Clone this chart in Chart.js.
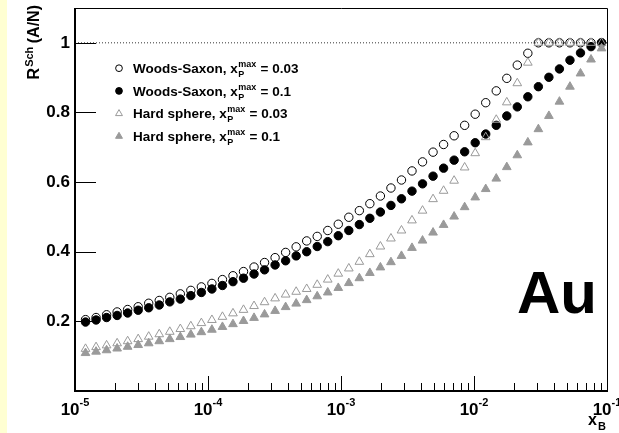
<!DOCTYPE html>
<html><head><meta charset="utf-8">
<script src="https://cdn.jsdelivr.net/npm/chart.js@4.4.0/dist/chart.umd.min.js"></script>
<style>html,body{margin:0;padding:0;background:#fff;}canvas{display:block;}</style>
</head><body>
<canvas id="c" width="619" height="433"></canvas>
<script>
// x_B values of the points (log-spaced)
const xB = [1.2e-5,1.44e-5,1.728e-5,2.074e-5,2.488e-5,2.986e-5,3.583e-5,4.300e-5,5.160e-5,6.192e-5,
  7.430e-5,8.916e-5,1.070e-4,1.284e-4,1.541e-4,1.849e-4,2.219e-4,2.662e-4,3.195e-4,3.834e-4,
  4.601e-4,5.521e-4,6.625e-4,7.950e-4,9.540e-4,1.145e-3,1.374e-3,1.648e-3,1.978e-3,2.374e-3,
  2.849e-3,3.418e-3,4.102e-3,4.922e-3,5.907e-3,7.088e-3,8.506e-3,1.021e-2,1.225e-2,1.470e-2,
  1.764e-2,2.116e-2,2.540e-2,3.048e-2,3.657e-2,4.389e-2,5.266e-2,6.320e-2,7.584e-2,9.100e-2];

// Woods-Saxon, xP^max = 0.03 (open circles)
const wsMax003 = [0.205,0.211,0.219,0.227,0.234,0.242,0.252,0.260,0.269,0.279,
  0.289,0.299,0.309,0.320,0.331,0.343,0.356,0.369,0.383,0.398,
  0.414,0.431,0.444,0.461,0.479,0.499,0.518,0.538,0.560,0.583,
  0.606,0.632,0.658,0.686,0.708,0.733,0.763,0.795,0.828,0.862,
  0.898,0.936,0.970,1,1,1,1,1,1,1];
// Woods-Saxon, xP^max = 0.1 (filled circles)
const wsMax01 = [0.198,0.204,0.211,0.217,0.224,0.232,0.239,0.247,0.256,0.264,
  0.274,0.283,0.293,0.303,0.314,0.324,0.336,0.348,0.362,0.374,
  0.388,0.400,0.415,0.429,0.446,0.461,0.478,0.496,0.514,0.533,
  0.552,0.574,0.595,0.617,0.640,0.663,0.687,0.713,0.738,0.763,
  0.790,0.816,0.845,0.874,0.901,0.925,0.950,0.971,0.989,1.0];
// Hard sphere, xP^max = 0.03 (open triangles)
const hsMax003 = [0.121,0.126,0.131,0.137,0.143,0.149,0.156,0.163,0.170,0.178,
  0.186,0.195,0.204,0.213,0.223,0.233,0.244,0.255,0.266,0.277,
  0.285,0.293,0.305,0.320,0.337,0.352,0.371,0.393,0.415,0.438,
  0.461,0.490,0.518,0.551,0.575,0.604,0.642,0.683,0.729,0.779,
  0.829,0.884,0.943,1,1,1,1,1,1,1];
// Hard sphere, xP^max = 0.1 (filled triangles)
const hsMax01 = [0.109,0.113,0.117,0.122,0.127,0.132,0.137,0.143,0.149,0.155,
  0.162,0.169,0.176,0.184,0.192,0.201,0.210,0.220,0.230,0.241,
  0.251,0.261,0.272,0.283,0.296,0.310,0.324,0.339,0.355,0.370,
  0.388,0.411,0.432,0.455,0.477,0.501,0.528,0.556,0.580,0.610,
  0.643,0.677,0.714,0.752,0.790,0.831,0.874,0.912,0.952,0.984];

const unityLine = [1e-5, 1e-1];
const yTickLabels = ['0.2','0.4','0.6','0.8','1'];
const xDecades = [1e-5,1e-4,1e-3,1e-2,1e-1];
const xDecadeExps = ['-5','-4','-3','-2','-1'];
const legendNames = ['Woods-Saxon, ','Woods-Saxon, ','Hard sphere, ','Hard sphere, '];
const legendXpMax = ['0.03','0.1','0.03','0.1'];
const nucleus = 'Au';

const FONT = "'Liberation Sans', Arial, Helvetica, sans-serif";
const GRAY = '#9a9a9a';
const pts = ys => ys.map((y,i)=>({x:xB[i], y:y}));

const markerStyles = [
  {pointStyle:'circle', pointRadius:4.2, borderColor:'#000', backgroundColor:'rgba(0,0,0,0)', borderWidth:1},
  {pointStyle:'circle', pointRadius:4.2, borderColor:'#000', backgroundColor:'#000', borderWidth:1},
  {pointStyle:'triangle', pointRadius:5, borderColor:GRAY, backgroundColor:'rgba(0,0,0,0)', borderWidth:1},
  {pointStyle:'triangle', pointRadius:5, borderColor:GRAY, backgroundColor:GRAY, borderWidth:1}
];
const seriesData = [wsMax003, wsMax01, hsMax003, hsMax01];

function drawMarker(c, st, x, y, scale){
  c.save();
  c.lineWidth = st.borderWidth; c.strokeStyle = st.borderColor; c.fillStyle = st.backgroundColor;
  Chart.helpers.drawPoint(c, {pointStyle:st.pointStyle, radius:st.pointRadius*scale, rotation:0, borderWidth:st.borderWidth}, x, y);
  c.restore();
}

const rootDecor = {
  id:'rootDecor',
  beforeDraw(chart){
    const c = chart.ctx;
    c.save();
    c.fillStyle = '#fff'; c.fillRect(0,0,chart.width,chart.height);
    c.fillStyle = '#ffffd2'; c.fillRect(0,0,7,chart.height);
    c.restore();
  },
  afterDatasetsDraw(chart){
    const c = chart.ctx, a = chart.chartArea, xs = chart.scales.x, ys = chart.scales.y;
    c.save();
    c.strokeStyle = '#000';
    // frame
    c.lineWidth = 1;
    c.beginPath();
    c.moveTo(a.left, a.top+0.5); c.lineTo(a.right+0.5, a.top+0.5); c.lineTo(a.right+0.5, a.bottom);
    c.stroke();
    c.lineWidth = 2;
    c.beginPath();
    c.moveTo(a.left, a.top); c.lineTo(a.left, a.bottom); c.lineTo(a.right+1, a.bottom);
    c.stroke();
    // y ticks (inside)
    c.lineWidth = 1;
    c.beginPath();
    ys.ticks.forEach(t=>{
      const v = t.value;
      const major = Math.round(v*100) % 20 === 0;
      const py = Math.round(ys.getPixelForValue(v)) + 0.5;
      c.moveTo(a.left, py); c.lineTo(a.left + (major?21:10), py);
    });
    // x ticks (inside)
    xDecades.forEach((d,i)=>{
      const px = Math.round(xs.getPixelForValue(d)) + 0.5;
      c.moveTo(px, a.bottom); c.lineTo(px, a.bottom-15);
      if (i < xDecades.length-1){
        for (let m=2;m<=9;m++){
          const q = Math.round(xs.getPixelForValue(d*m)) + 0.5;
          c.moveTo(q, a.bottom); c.lineTo(q, a.bottom-8);
        }
      }
    });
    c.stroke();
    // x tick labels 10^n
    c.fillStyle = '#000';
    c.textBaseline = 'alphabetic';
    xDecades.forEach((d,i)=>{
      const px = xs.getPixelForValue(d);
      c.font = 'bold 17px ' + FONT;
      const w1 = c.measureText('10').width;
      c.font = 'bold 11px ' + FONT;
      const w2 = c.measureText(xDecadeExps[i]).width;
      const x0 = px - (w1+w2)/2;
      c.font = 'bold 17px ' + FONT; c.textAlign='left';
      c.fillText('10', x0, 415);
      c.font = 'bold 11px ' + FONT;
      c.fillText(xDecadeExps[i], x0 + w1, 406);
    });
    // x axis title
    c.font = 'bold 16px ' + FONT; c.textAlign='left';
    c.fillText('x', 588, 425);
    c.font = 'bold 11px ' + FONT;
    c.fillText('B', 598, 430);
    // y axis title (rotated)
    c.save();
    c.font = 'bold 16px ' + FONT;
    const wR = c.measureText('R').width, wAN = c.measureText(' (A/N)').width;
    c.font = 'bold 11px ' + FONT;
    const wS = c.measureText('Sch').width;
    const W = wR + wS + wAN;
    c.translate(38.5, 5 + W);
    c.rotate(-Math.PI/2);
    c.font = 'bold 16px ' + FONT;
    c.fillText('R', 0, 0);
    c.font = 'bold 11px ' + FONT;
    c.fillText('Sch', wR + 1, -6);
    c.font = 'bold 16px ' + FONT;
    c.fillText(' (A/N)', wR + wS, 0);
    c.restore();
    // legend
    legendNames.forEach((name,i)=>{
      const base = 72.8 + i*22.7;
      drawMarker(c, markerStyles[i], 119, base-4.6, 0.8);
      c.fillStyle = '#000';
      c.font = 'bold 13.5px ' + FONT; c.textAlign = 'left';
      let x = 133;
      c.fillText(name + 'x', x, base);
      x += c.measureText(name + 'x').width;
      c.font = 'bold 9px ' + FONT;
      c.fillText('max', x + 0.5, base - 6);
      const wm = c.measureText('max').width;
      c.fillText('P', x + 0.5, base + 4);
      x += wm + 1;
      c.font = 'bold 13.5px ' + FONT;
      c.fillText(' = ' + legendXpMax[i], x, base);
    });
    // nucleus label
    c.font = 'bold 60px ' + FONT; c.textAlign = 'right';
    c.fillText(nucleus, 597, 313);
    c.restore();
  }
};

new Chart(document.getElementById('c').getContext('2d'), {
  type:'scatter',
  data:{datasets:[
    {label:'unity', data:unityLine.map(x=>({x:x, y:1})), showLine:true, borderColor:'#333', borderWidth:1, borderDash:[1,2], pointRadius:0, order:10},
    ...seriesData.map((d,i)=>Object.assign({label:legendNames[i]+legendXpMax[i], data:pts(d), order:4-i}, markerStyles[i]))
  ]},
  options:{
    responsive:false, animation:false, devicePixelRatio:1,
    layout:{padding:{left:0, right:12, top:8, bottom:42}},
    plugins:{legend:{display:false}, tooltip:{enabled:false}, title:{display:false}},
    scales:{
      x:{type:'logarithmic', min:1e-5, max:1e-1, display:false},
      y:{type:'linear', min:0, max:1.1,
        afterFit(s){ s.width = 75; s.paddingTop = 0; s.paddingBottom = 0; },
        grid:{display:false, drawTicks:false}, border:{display:false},
        ticks:{stepSize:0.05, autoSkip:false, padding:5, color:'#000',
          font:{family:FONT, size:17, weight:'bold'},
          callback(v){
            const k = Math.round(v*100);
            if (k > 0 && k <= 100 && k % 20 === 0) return yTickLabels[k/20 - 1];
            return null;
          }}
      }
    }
  },
  plugins:[rootDecor]
});
</script>
</body></html>
